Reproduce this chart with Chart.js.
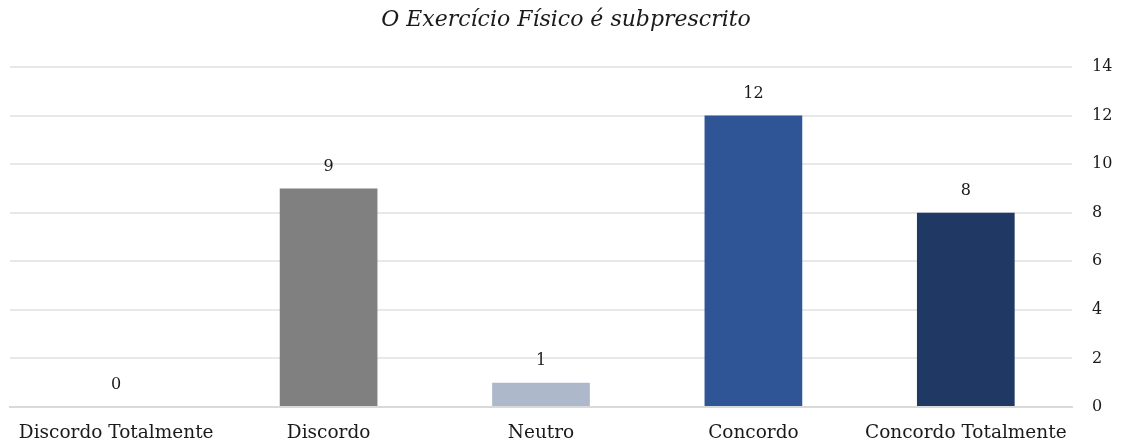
<!DOCTYPE html>
<html>
<head>
<meta charset="utf-8">
<script src="https://cdn.jsdelivr.net/npm/chart.js@4.4.1/dist/chart.umd.min.js"></script>
<style>
  html, body { margin: 0; padding: 0; background: #ffffff; }
  #wrap { width: 1122px; height: 445px; position: relative; }
</style>
</head>
<body>
<div id="wrap"><canvas id="chart"></canvas></div>
<script>
// Survey responses: "O Exercício Físico é subprescrito"
const categories = ['Discordo Totalmente', 'Discordo', 'Neutro', 'Concordo', 'Concordo Totalmente'];
const counts = [0, 9, 1, 12, 8];
const barColors = ['#808080', '#808080', '#adb9ca', '#2f5597', '#203864'];
const yTicks = [0, 2, 4, 6, 8, 10, 12, 14];

const FONT = '"DejaVu Serif", "Liberation Serif", serif';

// Writes each bar's value just above it
const valueLabels = {
  id: 'valueLabels',
  afterDatasetsDraw(chart) {
    const ctx = chart.ctx;
    const meta = chart.getDatasetMeta(0);
    ctx.save();
    ctx.font = '16px ' + FONT;
    ctx.fillStyle = '#1a1a1a';
    ctx.textAlign = 'center';
    ctx.textBaseline = 'bottom';
    meta.data.forEach((bar, i) => {
      ctx.fillText(String(counts[i]), bar.x, bar.y - 14);
    });
    ctx.restore();
  }
};

new Chart(document.getElementById('chart'), {
  type: 'bar',
  data: {
    labels: categories,
    datasets: [{
      data: counts,
      backgroundColor: barColors,
      borderWidth: 0,
      categoryPercentage: 1,
      barPercentage: 0.46
    }]
  },
  options: {
    responsive: true,
    maintainAspectRatio: false,
    animation: false,
    layout: { padding: { left: 10, right: 0, top: 0, bottom: 0 } },
    plugins: {
      legend: { display: false },
      tooltip: { enabled: false },
      title: {
        display: true,
        text: 'O Exercício Físico é subprescrito',
        color: '#1a1a1a',
        font: { family: FONT, size: 22, style: 'italic', weight: 'normal', lineHeight: 1.2 },
        padding: { top: 7, bottom: 33.6 }
      }
    },
    scales: {
      x: {
        afterFit(axis) { axis.height = 38; },
        grid: { display: false, drawTicks: false },
        border: { display: true, color: '#d9d9d9', width: 2 },
        ticks: {
          color: '#1a1a1a',
          padding: 17,
          maxRotation: 0,
          autoSkip: false,
          font: { family: FONT, size: 18.5, lineHeight: 1 }
        }
      },
      y: {
        position: 'right',
        min: 0,
        max: 14,
        afterFit(axis) { axis.width = 50; },
        afterBuildTicks(axis) { axis.ticks = yTicks.map(v => ({ value: v })); },
        grid: { color: '#e8e8e8', lineWidth: 2, drawTicks: false },
        border: { display: false },
        ticks: {
          color: '#1a1a1a',
          padding: 20,
          font: { family: FONT, size: 16, lineHeight: 1 }
        }
      }
    }
  },
  plugins: [valueLabels]
});
</script>
</body>
</html>
